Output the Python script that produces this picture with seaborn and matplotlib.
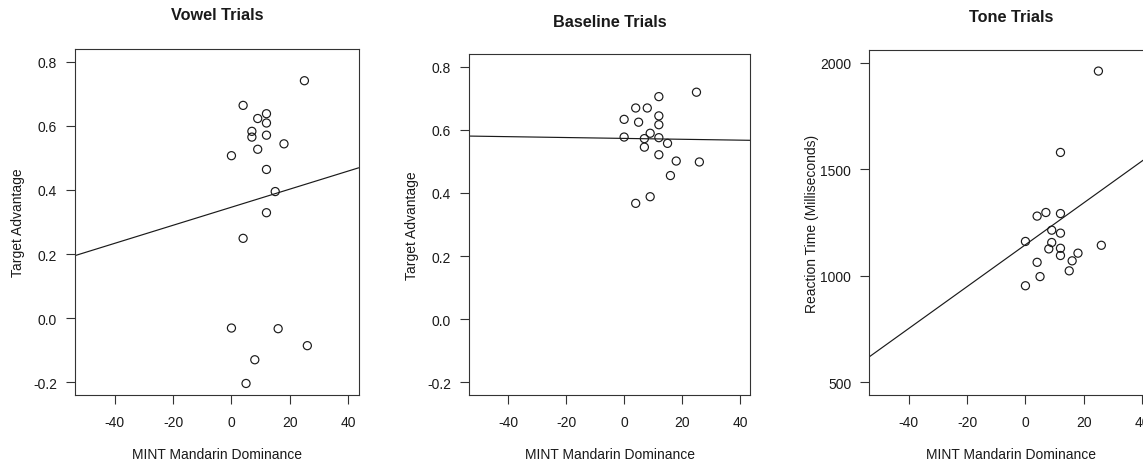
import matplotlib
matplotlib.use("Agg")
import matplotlib.pyplot as plt
import seaborn as sns

# ---------------- data ----------------
vowel_dominance = [25, 4, 12, 9, 12, 7, 7, 12, 18, 9, 0, 12, 15, 12, 4, 0, 16, 26, 8, 5]
vowel_advantage = [0.741, 0.664, 0.638, 0.623, 0.609, 0.583, 0.565, 0.571, 0.544, 0.527,
                   0.507, 0.464, 0.395, 0.329, 0.249, -0.031, -0.033, -0.086, -0.130, -0.204]

baseline_dominance = [25, 12, 4, 8, 0, 12, 5, 12, 0, 9, 7, 12, 15, 7, 12, 18, 26, 16, 9, 4]
baseline_advantage = [0.719, 0.705, 0.669, 0.669, 0.633, 0.644, 0.624, 0.616, 0.577, 0.589,
                      0.572, 0.575, 0.557, 0.545, 0.521, 0.501, 0.498, 0.455, 0.388, 0.367]

# last participant lies above the plotted range (clipped, as in the reference)
tone_dominance = [25, 12, 7, 4, 12, 9, 12, 0, 9, 8, 12, 26, 18, 12, 16, 4, 15, 5, 0, 7]
tone_rt = [1961, 1579, 1297, 1280, 1292, 1214, 1200, 1161, 1156, 1126,
           1129, 1143, 1106, 1095, 1070, 1063, 1023, 996, 953, 2165]

titles = ["Vowel Trials", "Baseline Trials", "Tone Trials"]
x_label = "MINT Mandarin Dominance"
y_labels = ["Target Advantage", "Target Advantage", "Reaction Time (Milliseconds)"]
x_ticks = [-40, -20, 0, 20, 40]
adv_ticks = [-0.2, 0.0, 0.2, 0.4, 0.6, 0.8]
rt_ticks = [500, 1000, 1500, 2000]

# ---------------- style ----------------
sns.set_theme(style="ticks")
plt.rcParams["font.family"] = ["Liberation Sans", "DejaVu Sans"]

W, H = 1143, 464
fig = plt.figure(figsize=(W / 100, H / 100), dpi=100)
fig.patch.set_facecolor("white")


def rect(l, r, t, b):
    return [l / W, 1 - b / H, (r - l) / W, (b - t) / H]


panels = [
    dict(x=vowel_dominance, y=vowel_advantage, yticks=adv_ticks, ylim=(-0.2, 0.8),
         fmt="{:.1f}", rect=(75, 358.7, 50, 396), title_xy=(216.8, 16)),
    dict(x=baseline_dominance, y=baseline_advantage, yticks=adv_ticks, ylim=(-0.2, 0.8),
         fmt="{:.1f}", rect=(469, 750.3, 55, 396), title_xy=(609.5, 22.5)),
    dict(x=tone_dominance, y=tone_rt, yticks=rt_ticks, ylim=(500, 2000),
         fmt="{:.0f}", rect=(869, 1152.7, 51, 396), title_xy=(1010.8, 17)),
]

ink = "#1a1a1a"
for i, p in enumerate(panels):
    l, r, t, b = p["rect"]
    ax = fig.add_axes(rect(l, r, t, b))
    ax.set_facecolor("white")
    # R-style 4% expansion of xlim=c(-50,40) and the given ylim
    ax.set_xlim(-50 - 3.6, 40 + 3.6)
    lo, hi = p["ylim"]
    pad = (hi - lo) * 0.04
    ax.set_ylim(lo - pad, hi + pad)

    sns.scatterplot(x=p["x"], y=p["y"], ax=ax, s=34, marker="o",
                    facecolor="none", edgecolor=ink, linewidth=0.85, legend=False)
    sns.regplot(x=p["x"], y=p["y"], ax=ax, scatter=False, ci=None, truncate=False,
                line_kws=dict(color=ink, lw=0.85))

    ax.set_xlim(-50 - 3.6, 40 + 3.6)
    ax.set_ylim(lo - pad, hi + pad)
    ax.set_xticks(x_ticks)
    ax.set_xticklabels([str(v) for v in x_ticks])
    ax.set_yticks(p["yticks"])
    ax.set_yticklabels([p["fmt"].format(v) for v in p["yticks"]])

    ax.tick_params(axis="both", direction="out", length=6.3, width=0.8,
                   color="#333333", labelsize=10, labelcolor=ink)
    ax.tick_params(axis="x", pad=8)
    ax.tick_params(axis="y", pad=6.5)
    for s in ax.spines.values():
        s.set_visible(True)
        s.set_color("#333333")
        s.set_linewidth(0.8)

    wpx, hpx = r - l, b - t
    ax.set_xlabel(x_label, fontsize=10, color=ink, va="center")
    ax.xaxis.set_label_coords(0.5, -59 / hpx)
    ax.set_ylabel(y_labels[i], fontsize=10, color=ink, va="center")
    ax.yaxis.set_label_coords(-56.7 / wpx, 0.5)

    tx, ty = p["title_xy"]
    fig.text(tx / W, 1 - ty / H, titles[i], ha="center", va="center",
             fontsize=11.7, fontweight="bold", color=ink)

fig.savefig("out.png", dpi=100, facecolor="white")
